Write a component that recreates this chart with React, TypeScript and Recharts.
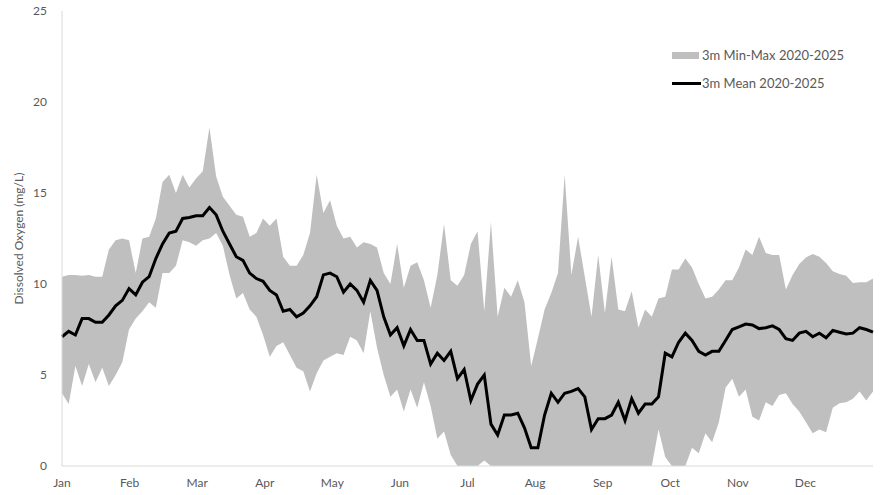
import {
  ComposedChart,
  XAxis,
  YAxis,
  Area,
  Line,
  Legend,
} from 'recharts';

// 3-day steps through the year
const minValues = [
  4.0, 3.4, 5.5, 4.4, 5.6, 4.6, 5.4, 4.4, 5.0, 5.7, 7.5, 8.1, 8.5, 9.0, 8.7, 10.6, 10.6, 11.0, 12.4, 12.3,
  12.1, 12.4, 12.5, 12.8, 12.1, 10.5, 9.2, 9.5, 8.6, 8.2, 7.2, 6.0, 6.6, 6.8, 6.1, 5.4, 5.2, 4.1, 5.1, 5.8,
  6.0, 6.2, 6.1, 7.1, 6.9, 6.2, 8.5, 6.5, 5.0, 3.8, 4.2, 3.0, 4.2, 3.2, 4.6, 3.3, 1.5, 1.9, 0.6, 0,
  0, 0, 0, 0.3, 0, 0, 0, 0, 0, 0, 0, 0, 0, 0, 0, 0, 0, 0, 0, 0,
  0, 0, 0, 0, 0, 0, 0, 0, 0, 2.0, 0.5, 0, 0, 0, 1.0, 0.7, 1.8, 1.3, 2.4, 4.3,
  4.8, 3.8, 4.2, 2.7, 2.5, 3.5, 3.3, 3.9, 4.0, 3.4, 3.0, 2.4, 1.8, 2.0, 1.85, 3.2, 3.45, 3.5, 3.7, 4.1,
  3.6, 4.1,
];

const maxValues = [
  10.4, 10.5, 10.5, 10.45, 10.5, 10.4, 10.4, 11.9, 12.4, 12.5, 12.4, 10.6, 12.5, 12.6, 13.6, 15.6, 16.0, 15.0, 16.0, 15.3,
  15.8, 16.2, 18.6, 15.9, 14.8, 14.3, 13.8, 13.7, 12.6, 12.8, 13.6, 13.2, 13.6, 11.5, 11.0, 11.0, 11.6, 12.8, 16.0, 13.9,
  14.6, 13.2, 12.5, 12.6, 12.0, 12.3, 12.2, 12.0, 10.6, 10.0, 12.2, 9.8, 11.0, 11.2, 10.2, 8.7, 10.5, 13.3, 10.2, 9.9,
  10.5, 12.2, 12.9, 8.5, 13.4, 8.2, 9.8, 9.3, 10.2, 9.0, 5.5, 7.0, 8.6, 9.5, 10.6, 16.0, 10.5, 12.6, 10.4, 8.2,
  11.6, 8.4, 11.5, 8.6, 8.5, 9.6, 7.6, 8.6, 8.2, 9.2, 9.3, 10.8, 10.8, 11.4, 10.9, 10.0, 9.2, 9.3, 9.7, 10.2,
  10.2, 10.9, 11.9, 11.6, 12.6, 11.7, 11.6, 11.6, 9.7, 10.5, 11.1, 11.45, 11.65, 11.5, 11.15, 10.7, 10.55, 10.45, 10.05, 10.1,
  10.1, 10.3,
];

const meanValues = [
  7.1, 7.4, 7.2, 8.1, 8.1, 7.9, 7.9, 8.3, 8.8, 9.1, 9.75, 9.4, 10.1, 10.4, 11.4, 12.2, 12.8, 12.9, 13.6, 13.65,
  13.75, 13.75, 14.2, 13.8, 12.9, 12.2, 11.5, 11.3, 10.6, 10.3, 10.15, 9.65, 9.4, 8.5, 8.6, 8.2, 8.4, 8.8, 9.3, 10.5,
  10.6, 10.4, 9.55, 10.0, 9.65, 9.0, 10.2, 9.65, 8.2, 7.2, 7.6, 6.6, 7.5, 6.9, 6.9, 5.6, 6.2, 5.8, 6.3, 4.8,
  5.3, 3.6, 4.5, 5.0, 2.3, 1.7, 2.8, 2.8, 2.9, 2.1, 1.0, 1.0, 2.8, 4.0, 3.5, 4.0, 4.1, 4.25, 3.8, 2.0,
  2.6, 2.6, 2.8, 3.5, 2.5, 3.7, 2.9, 3.4, 3.4, 3.8, 6.2, 6.0, 6.8, 7.3, 6.9, 6.3, 6.1, 6.3, 6.3, 6.9,
  7.5, 7.65, 7.8, 7.75, 7.55, 7.6, 7.7, 7.5, 7.0, 6.9, 7.3, 7.4, 7.1, 7.3, 7.05, 7.45, 7.35, 7.25, 7.3, 7.6,
  7.5, 7.35,
];

const months = ['Jan', 'Feb', 'Mar', 'Apr', 'May', 'Jun', 'Jul', 'Aug', 'Sep', 'Oct', 'Nov', 'Dec'];
const yTicks = [0, 5, 10, 15, 20, 25];

const data = meanValues.map((mean, i) => ({
  m: (i * 12) / (meanValues.length - 1),
  range: [minValues[i], maxValues[i]],
  mean,
}));

const font = 'Lato, "Open Sans", sans-serif';
const textColor = '#595959';

const renderLegend = (props: any) => {
  // band first, then the mean line
  const items = [...(props.payload || [])].sort(
    (a: any, b: any) => (a.dataKey === 'range' ? -1 : 0) - (b.dataKey === 'range' ? -1 : 0)
  );
  return (
    <div style={{ fontFamily: font, fontSize: 13, color: textColor }}>
      {items.map((item: any) => (
        <div
          key={item.value}
          style={{ display: 'flex', alignItems: 'center', height: 28 }}
        >
          {item.dataKey === 'range' ? (
            <div style={{ width: 27, height: 7, background: '#bfbfbf', marginRight: 3 }} />
          ) : (
            <div style={{ width: 29, height: 3, background: '#000', marginRight: 1 }} />
          )}
          <span>{item.value}</span>
        </div>
      ))}
    </div>
  );
};

const YLabel = (props: any) => {
  const vb = props.viewBox;
  const cx = 18;
  const cy = vb.y + vb.height / 2;
  return (
    <text
      x={cx}
      y={cy}
      transform={`rotate(-90, ${cx}, ${cy})`}
      textAnchor='middle'
      dominantBaseline='central'
      fontFamily={font}
      fontSize={12}
      fill={textColor}
    >
      Dissolved Oxygen (mg/L)
    </text>
  );
};

const App = () => {
  return (
    <div style={{ position: 'absolute', left: 0, top: 0, background: '#fff' }}>
      <ComposedChart
        width={880}
        height={495}
        data={data}
        margin={{ top: 11, right: 7, bottom: 0, left: 0 }}
      >
        <XAxis
          dataKey='m'
          type='number'
          domain={[0, 12]}
          ticks={[0, 1, 2, 3, 4, 5, 6, 7, 8, 9, 10, 11]}
          tickFormatter={(v: number) => months[v]}
          interval={0}
          height={29}
          tickLine={false}
          tickSize={0}
          tickMargin={12}
          axisLine={{ stroke: '#d9d9d9' }}
          tick={{ fill: textColor, fontSize: 12, fontFamily: font }}
        />
        <YAxis
          type='number'
          domain={[0, 25]}
          ticks={yTicks}
          interval={0}
          width={62}
          tickLine={false}
          tickSize={0}
          tickMargin={15}
          axisLine={{ stroke: '#d9d9d9' }}
          tick={{ fill: textColor, fontSize: 12, fontFamily: font }}
          label={<YLabel />}
        />
        <Legend
          layout='horizontal'
          verticalAlign='middle'
          align='center'
          content={renderLegend}
          wrapperStyle={{ top: 41, left: 672, width: 220, height: 60 }}
        />
        <Area
          type='linear'
          dataKey='range'
          name='3m Min-Max 2020-2025'
          stroke='none'
          fill='#bfbfbf'
          fillOpacity={1}
          isAnimationActive={false}
          activeDot={false}
        />
        <Line
          type='linear'
          dataKey='mean'
          name='3m Mean 2020-2025'
          stroke='#000'
          strokeWidth={3}
          dot={false}
          activeDot={false}
          isAnimationActive={false}
        />
      </ComposedChart>
    </div>
  );
};

export default App;
